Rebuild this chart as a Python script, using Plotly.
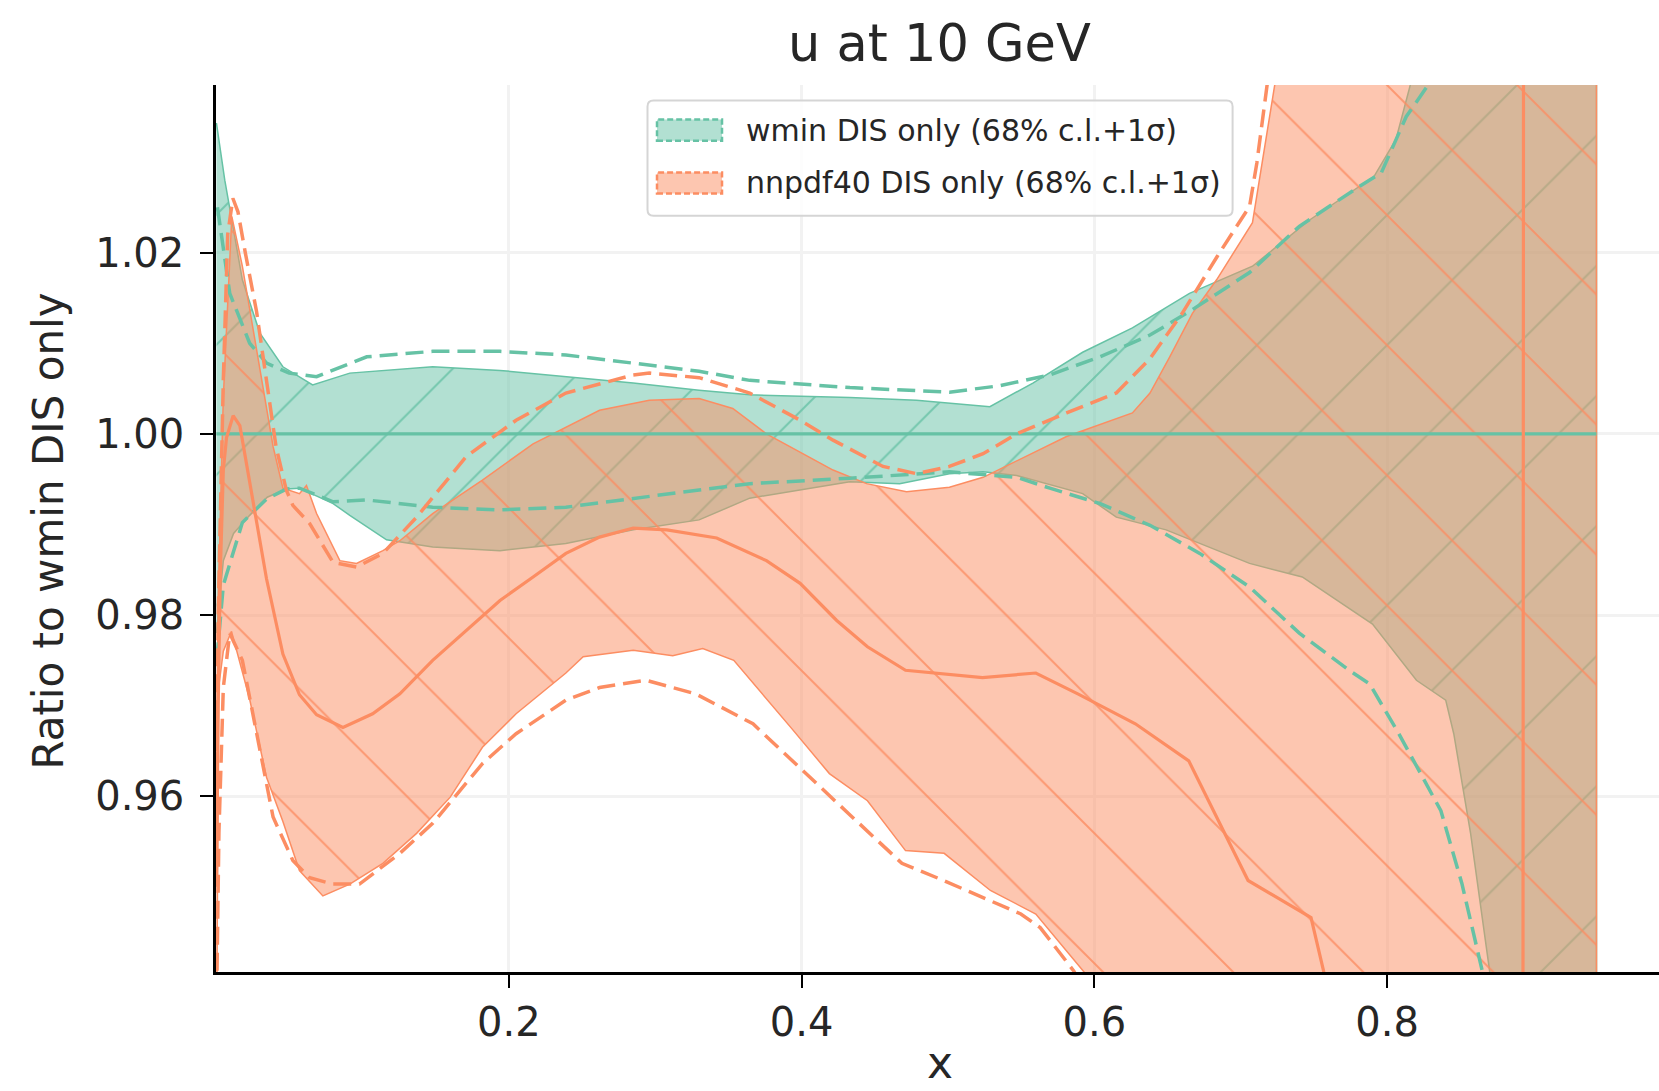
import plotly.graph_objects as go

# ---------------- data ----------------
# wmin DIS only : central (ratio to itself = 1)
wmin_cv_x = [0.0003, 0.2, 0.4, 0.6, 0.8, 0.943]
wmin_cv_y = [1.0, 1.0, 1.0, 1.0, 1.0, 1.0]

# wmin 68% c.l. band
wmin_up_x = [0.0003, 0.006, 0.018, 0.030, 0.0457, 0.066, 0.0914, 0.148, 0.194, 0.239, 0.285,
             0.330, 0.3646, 0.433, 0.4785, 0.5286, 0.558, 0.592, 0.626, 0.665, 0.708, 0.747,
             0.791, 0.806, 0.8155, 0.85, 0.90, 0.943]
wmin_up_y = [1.0343, 1.028, 1.017, 1.0111, 1.0074, 1.0054, 1.0067, 1.0074, 1.0070, 1.0063, 1.0056,
             1.0048, 1.0043, 1.0040, 1.0037, 1.0030, 1.0056, 1.0090, 1.0117, 1.0155, 1.0185, 1.0236,
             1.0284, 1.0325, 1.0385, 1.06, 1.09, 1.12]
wmin_dn_x = [0.0003, 0.005, 0.012, 0.023, 0.035, 0.048, 0.057, 0.080, 0.0914, 0.1165, 0.148, 0.194,
             0.239, 0.285, 0.330, 0.3646, 0.433, 0.467, 0.501, 0.524, 0.547, 0.592, 0.615, 0.649,
             0.706, 0.742, 0.790, 0.820, 0.840, 0.8455, 0.857, 0.870, 0.90, 0.943]
wmin_dn_y = [0.978, 0.986, 0.989, 0.991, 0.9930, 0.9939, 0.9940, 0.9923, 0.9910, 0.9883, 0.9875, 0.9871,
             0.9879, 0.9894, 0.9905, 0.9929, 0.9947, 0.9945, 0.9956, 0.9958, 0.9954, 0.9934, 0.9908, 0.9894,
             0.9857, 0.9842, 0.9790, 0.9728, 0.9706, 0.9669, 0.9559, 0.9407, 0.90, 0.87]

# wmin +-1 sigma
wmin_up1s_x = [0.001, 0.0094, 0.023, 0.0345, 0.050, 0.0687, 0.103, 0.148, 0.194, 0.239, 0.285, 0.330,
               0.3646, 0.433, 0.501, 0.535, 0.5695, 0.604, 0.638, 0.665, 0.706, 0.740, 0.781, 0.796,
               0.813, 0.828, 0.87, 0.943]
wmin_up1s_y = [1.025, 1.0155, 1.010, 1.0078, 1.0067, 1.0063, 1.0085, 1.0091, 1.0091, 1.0087, 1.0078, 1.0069,
               1.0059, 1.0051, 1.0046, 1.0053, 1.0065, 1.0085, 1.0109, 1.0135, 1.0178, 1.0229, 1.0273, 1.0288,
               1.035, 1.0385, 1.06, 1.10]
wmin_dn1s_x = [0.0005, 0.005, 0.018, 0.0345, 0.048, 0.057, 0.080, 0.103, 0.148, 0.194, 0.239, 0.285,
               0.330, 0.3646, 0.433, 0.501, 0.547, 0.5696, 0.604, 0.638, 0.672, 0.706, 0.740, 0.774,
               0.788, 0.808, 0.8367, 0.851, 0.865, 0.90]
wmin_dn1s_y = [0.975, 0.9833, 0.9902, 0.9928, 0.9939, 0.9940, 0.9925, 0.9927, 0.9919, 0.9916, 0.9919, 0.9929,
               0.9938, 0.9945, 0.9951, 0.9958, 0.9952, 0.9940, 0.9923, 0.9899, 0.9868, 0.9831, 0.9780, 0.9739,
               0.9724, 0.9669, 0.9584, 0.9504, 0.9407, 0.90]

# nnpdf40 DIS only : central
nnpdf_cv_x = [0.0003, 0.0015, 0.003, 0.005, 0.0072, 0.0117, 0.0163, 0.023, 0.0345, 0.0457, 0.057, 0.0687,
              0.0867, 0.107, 0.1256, 0.148, 0.171, 0.194, 0.2166, 0.239, 0.262, 0.285, 0.308, 0.342, 0.376,
              0.399, 0.424, 0.445, 0.471, 0.5236, 0.560, 0.5887, 0.628, 0.6645, 0.705, 0.748, 0.7566, 0.80,
              0.8925, 0.8935, 0.943]
nnpdf_cv_y = [0.950, 0.970, 0.985, 0.996, 0.9996, 1.002, 1.0009, 0.9947, 0.984, 0.9757, 0.9712, 0.969,
              0.9676, 0.9691, 0.9713, 0.975, 0.9783, 0.9816, 0.9842, 0.9868, 0.9886, 0.9896, 0.9894, 0.9885, 0.986,
              0.9835, 0.9794, 0.9765, 0.9739, 0.9731, 0.9736, 0.9713, 0.968, 0.9639, 0.9507, 0.9466, 0.9407, 0.90,
              0.85, 1.15, 1.20]

# nnpdf40 68% c.l. band
nnpdf_up_x = [0.0003, 0.0015, 0.005, 0.0108, 0.018, 0.025, 0.039, 0.0457, 0.057, 0.0618, 0.0687, 0.0846,
              0.096, 0.114, 0.1256, 0.148, 0.182, 0.2166, 0.262, 0.296, 0.330, 0.353, 0.376, 0.4215, 0.4444,
              0.4717, 0.501, 0.524, 0.581, 0.626, 0.638, 0.6515, 0.667, 0.6835, 0.708, 0.723, 0.76, 0.943]
nnpdf_up_y = [0.965, 0.982, 1.004, 1.024, 1.0185, 1.012, 0.9986, 0.994, 0.9934, 0.9943, 0.9912, 0.9860,
              0.9857, 0.9871, 0.9882, 0.9912, 0.9949, 0.9989, 1.0026, 1.0037, 1.0039, 1.0028, 1.0000, 0.9960, 0.9945,
              0.9936, 0.9941, 0.9952, 0.9997, 1.0023, 1.0045, 1.0085, 1.0133, 1.017, 1.0233, 1.0383, 1.07, 1.15]
nnpdf_dn_x = [0.0003, 0.0012, 0.0018, 0.005, 0.0106, 0.023, 0.0345, 0.0457, 0.057, 0.073, 0.0914, 0.114,
              0.137, 0.160, 0.182, 0.205, 0.2166, 0.239, 0.2508, 0.285, 0.312, 0.3325, 0.3537, 0.3926, 0.419,
              0.445, 0.471, 0.4974, 0.529, 0.560, 0.594, 0.65, 0.943]
nnpdf_dn_y = [0.930, 0.935, 0.972, 0.976, 0.9782, 0.9707, 0.9621, 0.9572, 0.9518, 0.949, 0.9503, 0.9526,
              0.9559, 0.9599, 0.9654, 0.9691, 0.9706, 0.9736, 0.9754, 0.9761, 0.9755, 0.9763, 0.9750, 0.9676, 0.9625,
              0.9595, 0.9540, 0.9537, 0.9496, 0.9470, 0.9404, 0.92, 0.85]

# nnpdf40 +-1 sigma
nnpdf_up1s_x = [0.0003, 0.0015, 0.005, 0.008, 0.0115, 0.015, 0.020, 0.0277, 0.041, 0.048, 0.0525, 0.064,
                0.080, 0.096, 0.114, 0.137, 0.171, 0.205, 0.239, 0.285, 0.296, 0.330, 0.3646, 0.399, 0.4215,
                0.4556, 0.4785, 0.501, 0.524, 0.547, 0.581, 0.615, 0.638, 0.660, 0.684, 0.706, 0.711, 0.718, 0.74]
nnpdf_up1s_y = [0.96, 0.98, 1.006, 1.022, 1.026, 1.0245, 1.020, 1.0135, 0.9986, 0.9938, 0.9921, 0.9901,
                0.9858, 0.9853, 0.9868, 0.9908, 0.9975, 1.0015, 1.0045, 1.0065, 1.0067, 1.0062, 1.0045, 1.0015, 0.9993,
                0.9964, 0.9956, 0.9964, 0.9978, 1.0, 1.0023, 1.0045, 1.0083, 1.0133, 1.0196, 1.0251, 1.0299, 1.0385, 1.07]
nnpdf_dn1s_x = [0.0002, 0.002, 0.005, 0.0094, 0.018, 0.0277, 0.039, 0.0525, 0.064, 0.080, 0.098, 0.1256,
                0.148, 0.182, 0.205, 0.239, 0.262, 0.2936, 0.3276, 0.3668, 0.398, 0.432, 0.4685, 0.497, 0.5498,
                0.563, 0.586, 0.62]
nnpdf_dn1s_y = [0.935, 0.956, 0.972, 0.978, 0.975, 0.9669, 0.9577, 0.9529, 0.951, 0.9503, 0.9503, 0.9537,
                0.957, 0.9636, 0.9669, 0.9706, 0.972, 0.9728, 0.9713, 0.968, 0.9632, 0.9581, 0.9526, 0.9507, 0.947,
                0.9455, 0.9407, 0.93]

x_ticks = [0.2, 0.4, 0.6, 0.8]
x_ticklabels = ["0.2", "0.4", "0.6", "0.8"]
y_ticks = [0.96, 0.98, 1.00, 1.02]
y_ticklabels = ["0.96", "0.98", "1.00", "1.02"]

title_text = "u at 10 GeV"
xlabel_text = "x"
ylabel_text = "Ratio to wmin DIS only"
legend_labels = ["wmin DIS only (68% c.l.+1σ)", "nnpdf40 DIS only (68% c.l.+1σ)"]

# ---------------- styling ----------------
GREEN = "#66c2a5"
ORANGE = "#fc8d62"
GREEN_FILL = "rgba(102,194,165,0.5)"
ORANGE_FILL = "rgba(252,141,98,0.5)"
FONT = "DejaVu Sans"
TEXT_COL = "#262626"

fig = go.Figure()


def band(xu, yu, xd, yd, fill, col, shape):
    fig.add_trace(go.Scatter(
        x=list(xu) + list(xd)[::-1],
        y=list(yu) + list(yd)[::-1],
        mode="lines", fill="toself",
        fillcolor=fill,
        fillpattern=dict(shape=shape, bgcolor=fill, fgcolor=col, fgopacity=0.8,
                         size=92, solidity=0.022),
        line=dict(color=col, width=1.5),
        opacity=1.0, showlegend=False, hoverinfo="skip"))


def line(x, y, col, dash=None, width=3.2):
    fig.add_trace(go.Scatter(
        x=x, y=y, mode="lines",
        line=dict(color=col, width=width, dash=dash) if dash else dict(color=col, width=width),
        showlegend=False, hoverinfo="skip"))


band(wmin_up_x, wmin_up_y, wmin_dn_x, wmin_dn_y, GREEN_FILL, GREEN, "/")
band(nnpdf_up_x, nnpdf_up_y, nnpdf_dn_x, nnpdf_dn_y, ORANGE_FILL, ORANGE, "\\")

DASH = "18px,8px"
line(wmin_up1s_x, wmin_up1s_y, GREEN, DASH, 3.5)
line(wmin_dn1s_x, wmin_dn1s_y, GREEN, DASH, 3.5)
line(wmin_cv_x, wmin_cv_y, GREEN, None, 3.2)
line(nnpdf_up1s_x, nnpdf_up1s_y, ORANGE, DASH, 3.5)
line(nnpdf_dn1s_x, nnpdf_dn1s_y, ORANGE, DASH, 3.5)
line(nnpdf_cv_x, nnpdf_cv_y, ORANGE, None, 3.2)

W, H = 1659, 1091
L, R, T, B = 216, 0, 85, 119
PW, PH = W - L - R, H - T - B


def px(X):
    return (X - L) / PW


def py(Y):
    return (H - B - Y) / PH


# legend (drawn manually)
x0, x1, y0, y1 = px(647.5), px(1232.6), py(215.8), py(100.5)
rx, ry = 6 / PW, 6 / PH
legend_path = (f"M{x0+rx},{y1} L{x1-rx},{y1} Q{x1},{y1} {x1},{y1-ry} L{x1},{y0+ry} "
               f"Q{x1},{y0} {x1-rx},{y0} L{x0+rx},{y0} Q{x0},{y0} {x0},{y0+ry} "
               f"L{x0},{y1-ry} Q{x0},{y1} {x0+rx},{y1} Z")
shapes = [dict(type="path", xref="paper", yref="paper", path=legend_path,
               fillcolor="rgba(255,255,255,0.85)", line=dict(color="#d5d5d5", width=2),
               layer="above")]
swatches = [(119.5, 140.7, GREEN_FILL, GREEN), (172.5, 193.6, ORANGE_FILL, ORANGE)]
for (ya, yb, fc, lc) in swatches:
    shapes.append(dict(type="rect", xref="paper", yref="paper",
                       x0=px(657), x1=px(722), y0=py(yb), y1=py(ya),
                       fillcolor=fc, line=dict(color=lc, width=2.5, dash="6px,3px"),
                       layer="above"))

annotations = [
    dict(text=title_text, xref="paper", yref="paper", x=px(939.5), y=py(44),
         xanchor="center", yanchor="middle", showarrow=False,
         font=dict(family=FONT, size=51, color=TEXT_COL)),
    dict(text=xlabel_text, xref="paper", yref="paper", x=px(939.5), y=py(1090),
         xanchor="center", yanchor="bottom", showarrow=False,
         font=dict(family=FONT, size=44, color=TEXT_COL)),
    dict(text=ylabel_text, xref="paper", yref="paper", x=px(47.6), y=py(531),
         xanchor="center", yanchor="middle", textangle=-90, showarrow=False,
         font=dict(family=FONT, size=42, color=TEXT_COL)),
]
for lbl, yc in zip(legend_labels, [130, 183]):
    annotations.append(dict(text=lbl, xref="paper", yref="paper", x=px(744), y=py(yc),
                            xanchor="left", yanchor="middle", showarrow=False,
                            font=dict(family=FONT, size=30, color=TEXT_COL)))

fig.update_layout(
    width=W, height=H, autosize=False,
    margin=dict(l=L, r=R, t=T, b=B, pad=0),
    paper_bgcolor="white", plot_bgcolor="white",
    shapes=shapes, annotations=annotations,
    showlegend=False,
    font=dict(family=FONT, color=TEXT_COL),
)
fig.update_xaxes(
    range=[0.0, 0.9857], tickvals=x_ticks, ticktext=x_ticklabels,
    showgrid=True, gridcolor="#f2f2f2", gridwidth=2.5, zeroline=False,
    showline=True, linecolor="black", linewidth=2.5,
    ticks="outside", ticklen=13, tickwidth=2, tickcolor="black",
    tickfont=dict(family=FONT, size=40, color=TEXT_COL), ticklabelstandoff=0,
)
fig.update_yaxes(
    range=[0.9406, 1.0385], tickvals=y_ticks, ticktext=y_ticklabels,
    showgrid=True, gridcolor="#f2f2f2", gridwidth=2.5, zeroline=False,
    showline=True, linecolor="black", linewidth=2.5,
    ticks="outside", ticklen=13, tickwidth=2, tickcolor="black",
    tickfont=dict(family=FONT, size=40, color=TEXT_COL), ticklabelstandoff=8,
)

fig.write_html("out.html")
